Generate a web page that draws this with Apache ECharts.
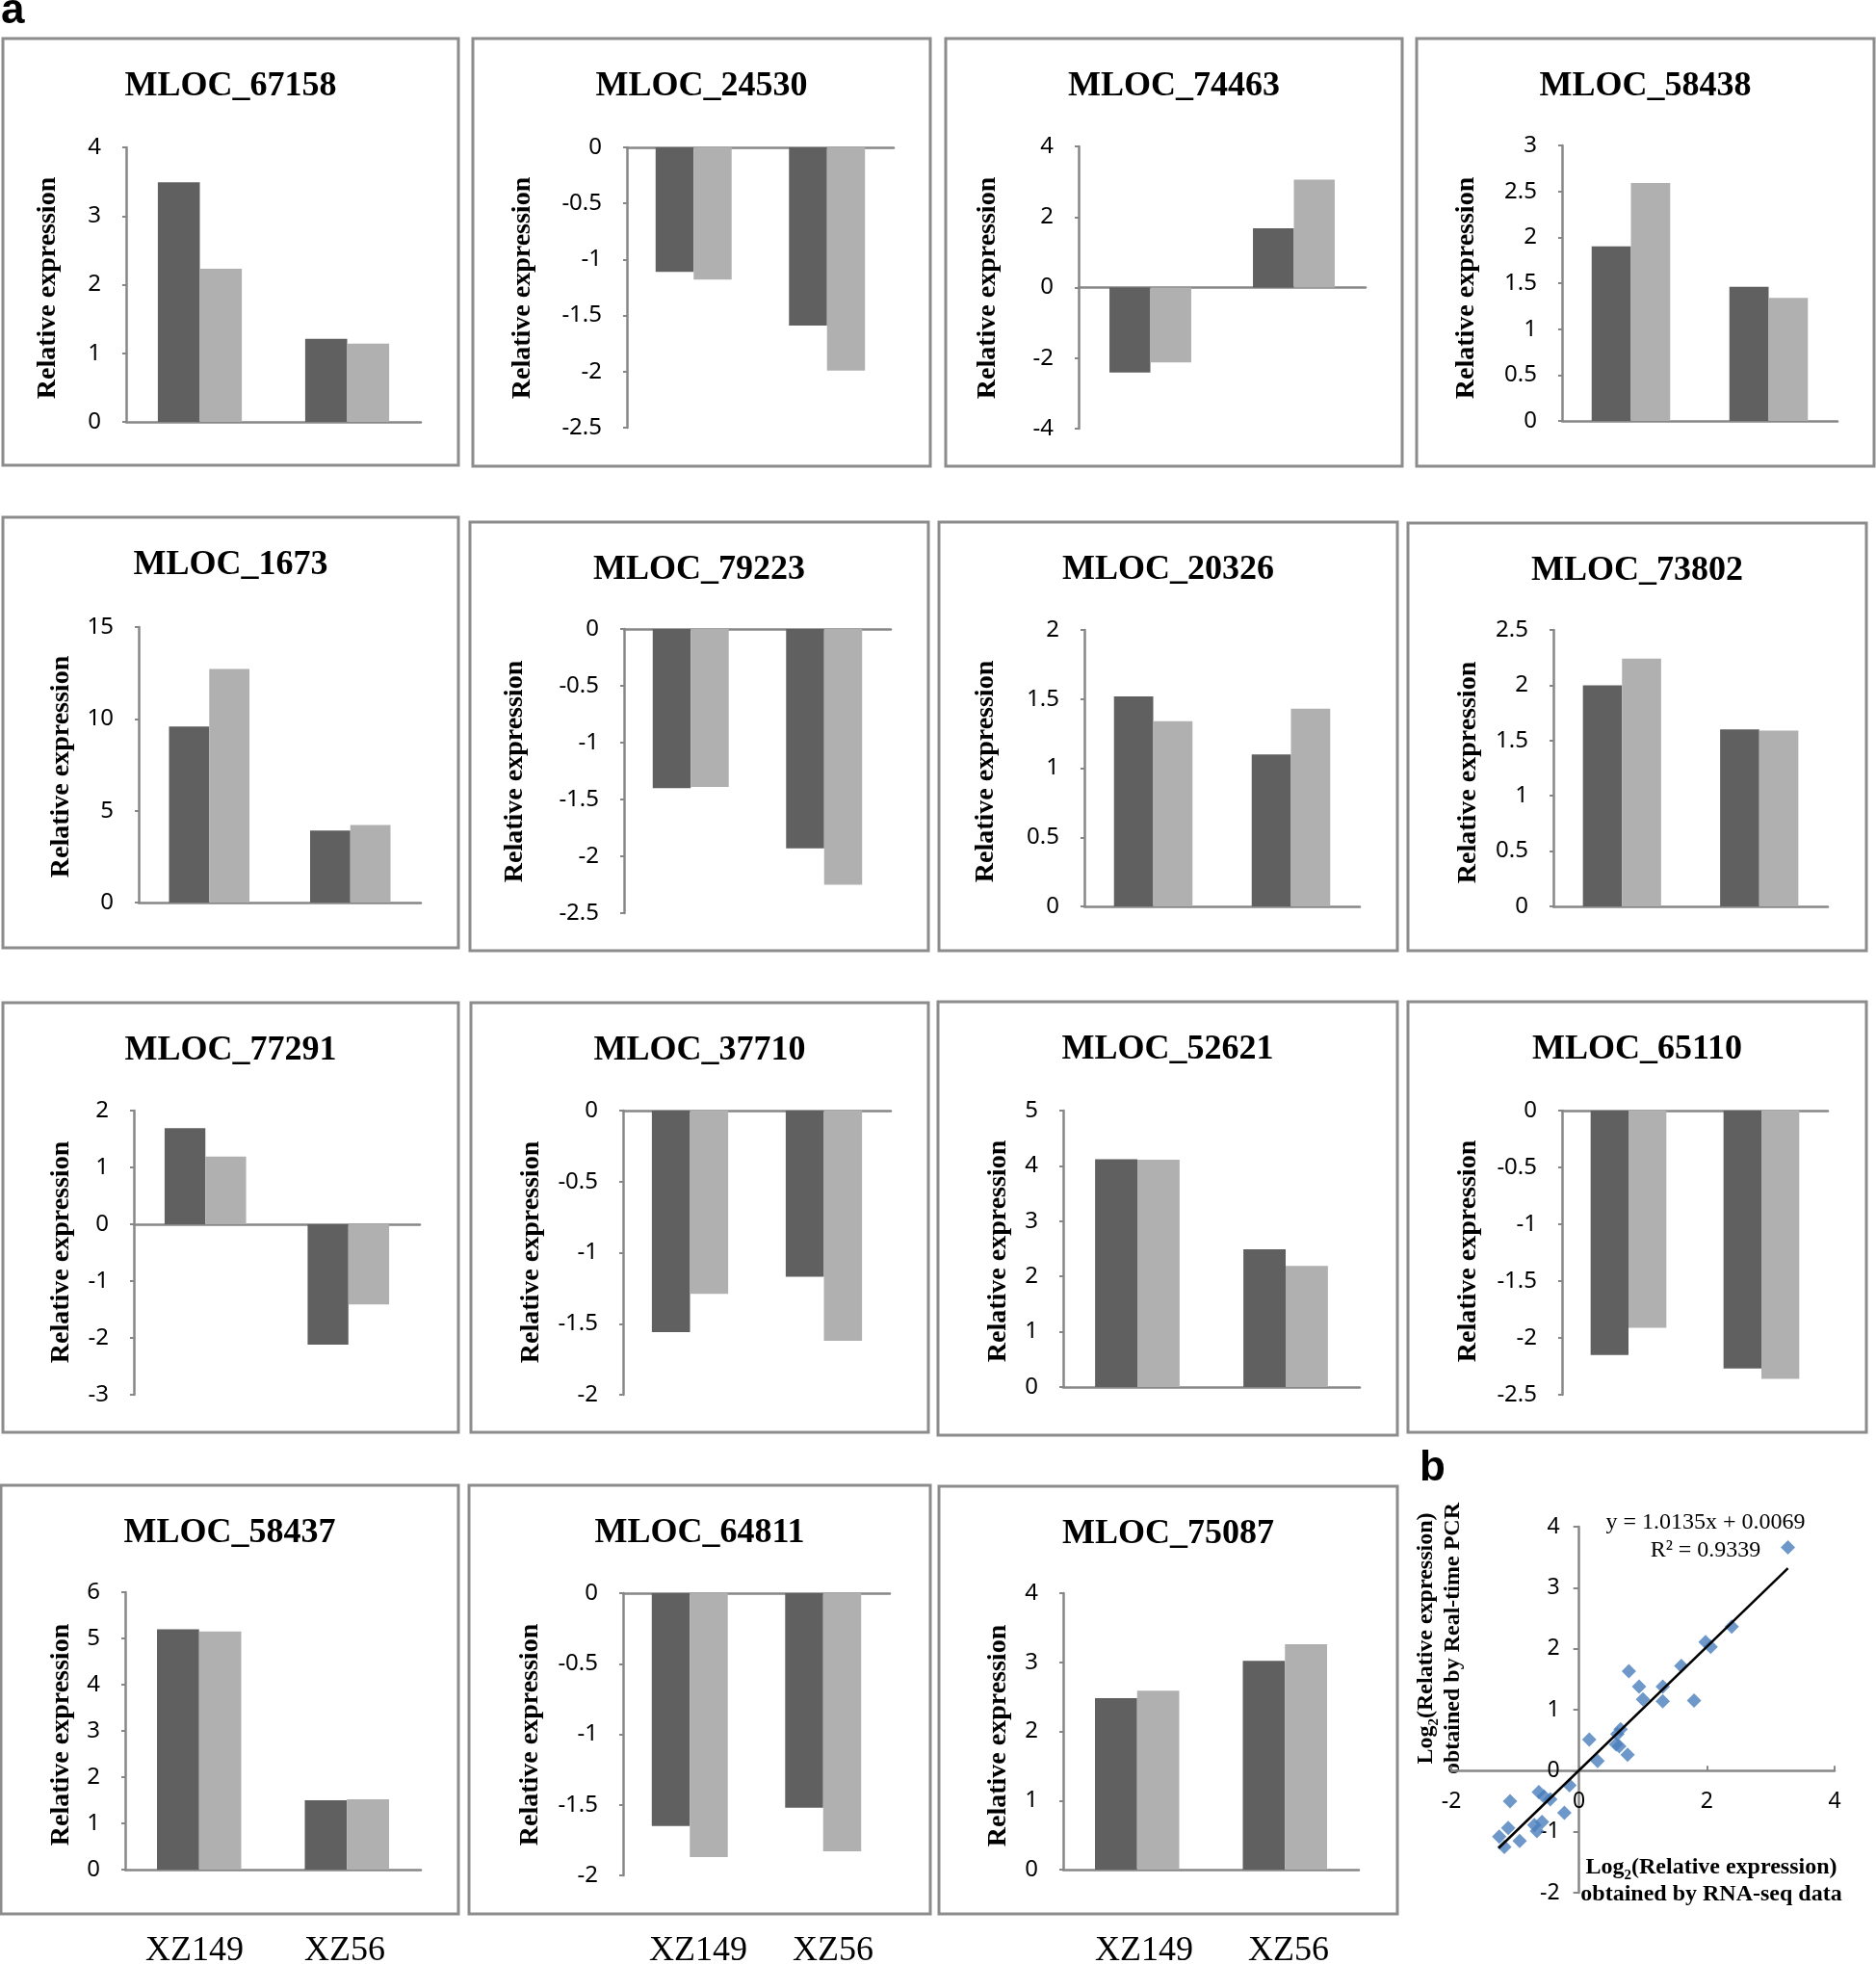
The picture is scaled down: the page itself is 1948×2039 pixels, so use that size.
<!DOCTYPE html>
<html>
<head>
<meta charset="utf-8">
<title>Relative expression, RNA-seq vs real-time PCR</title>
<script src="https://cdn.jsdelivr.net/npm/echarts@6/dist/echarts.min.js"></script>
<style>
  html, body { margin: 0; padding: 0; background: #fff; }
  #main { width: 1948px; height: 2039px; }
</style>
</head>
<body>
<div id="main"></div>
<script>
// ---- data ----
const genes = [
  'MLOC_67158', 'MLOC_24530', 'MLOC_74463', 'MLOC_58438',
  'MLOC_1673', 'MLOC_79223', 'MLOC_20326', 'MLOC_73802',
  'MLOC_77291', 'MLOC_37710', 'MLOC_52621', 'MLOC_65110',
  'MLOC_58437', 'MLOC_64811', 'MLOC_75087'
];
const samples = ['XZ149', 'XZ56'];
// dark bar / light bar for [XZ149, XZ56]
const darkBars = [
  [3.49, 1.21], [-1.11, -1.59], [-2.41, 1.68], [1.90, 1.46],
  [9.59, 3.92], [-1.40, -1.93], [1.52, 1.10], [2.00, 1.60],
  [1.69, -2.12], [-1.56, -1.17], [4.12, 2.49], [-2.15, -2.27],
  [5.20, 1.50], [-1.65, -1.52], [2.48, 3.02]
];
const lightBars = [
  [2.23, 1.14], [-1.18, -1.99], [-2.12, 3.06], [2.59, 1.34],
  [12.72, 4.22], [-1.39, -2.25], [1.34, 1.43], [2.24, 1.59],
  [1.19, -1.41], [-1.29, -1.62], [4.11, 2.19], [-1.91, -2.36],
  [5.15, 1.52], [-1.87, -1.83], [2.59, 3.26]
];
// y axis ticks of each panel
const yMin = [0, -2.5, -4, 0, 0, -2.5, 0, 0, -3, -2, 0, -2.5, 0, -2, 0];
const yMax = [4, 0, 4, 3, 15, 0, 2, 2.5, 2, 0, 5, 0, 6, 0, 4];
const yStep = [1, 0.5, 2, 0.5, 5, 0.5, 0.5, 0.5, 1, 0.5, 1, 0.5, 1, 0.5, 1];

// panel b: log2 relative expression
const rnaSeqLog2 = [3.27, 2.39, 1.98, 2.06, 1.60, 1.80, 1.31, 1.31, 0.94, 1.00, 0.78,
  0.65, 0.60, 0.58, 0.63, 0.76, 0.16, 0.29, -0.15, -0.23, -0.45, -0.63, -0.55,
  -1.08, -0.58, -0.70, -0.66, -1.11, -1.25, -1.17, -0.93];
const qpcrLog2 = [3.66, 2.36, 2.11, 2.03, 1.72, 1.15, 1.38, 1.14, 1.38, 1.17, 1.63,
  0.68, 0.60, 0.43, 0.40, 0.26, 0.51, 0.16, -0.24, -0.69, -0.47, -0.35, -0.42,
  -0.50, -0.84, -0.89, -0.99, -0.94, -1.08, -1.25, -1.15];
const trendLine = [[-1.26, -1.27], [3.27, 3.32]];
const trendEquation = 'y = 1.0135x + 0.0069';
const trendR2 = 'R² = 0.9339';
const bRange = [-2, 4];

// ---- layout, pixels in the 1948 x 2039 figure ----
// frame of each panel [x0, y0, x1, y1]
const boxes = [
  [3, 40, 476, 483], [491, 40, 966, 484], [982, 40, 1456, 484], [1471, 40, 1946, 484],
  [3, 537, 476, 984], [488, 542, 964, 987], [975, 542, 1451, 987], [1462, 543, 1938, 987],
  [3, 1041, 476, 1487], [489, 1041, 964, 1487], [974, 1040, 1451, 1490], [1462, 1040, 1938, 1487],
  [1, 1542, 476, 1987], [487, 1542, 966, 1987], [975, 1543, 1451, 1987]
];
// plot area [axisX, xEnd, top, bottom]
const plots = [
  [131, 437, 153, 438], [651, 928, 153, 444], [1120, 1418, 152, 445], [1622, 1908, 151, 437],
  [144, 437, 651, 937], [648, 925, 653, 948], [1126, 1412, 654, 941], [1613, 1898, 654, 941],
  [139, 436, 1153, 1448], [647, 925, 1153, 1448], [1104, 1412, 1153, 1440], [1622, 1898, 1153, 1448],
  [130, 437, 1653, 1941], [647, 924, 1654, 1947], [1104, 1411, 1654, 1941]
];
const nameX = [50, 543, 1026, 1523, 64, 535, 1024, 1525, 64, 552, 1037, 1525, 64, 551, 1037];
const sampleLabelX = [[202, 358], [725, 865], [1188, 1338]];
const bGrid = { left: 1507, top: 1585, width: 398, height: 380 };

const AXIS = '#878787';
const DARK = '#606060';
const LIGHT = '#b0b0b0';
const SERIF = '"Liberation Serif", "Times New Roman", serif';
const SANS = '"Noto Sans", "Open Sans", sans-serif';

const chart = echarts.init(document.getElementById('main'));

const grid = [];
const xAxis = [];
const yAxis = [];
const series = [];
const graphic = [];

genes.forEach((gene, i) => {
  const [ax, xe, top, bottom] = plots[i];
  const [bx0, by0, bx1, by1] = boxes[i];
  grid.push({ left: ax, top: top, width: xe - ax, height: bottom - top, outerBoundsMode: 'none' });
  xAxis.push({
    type: 'category',
    gridIndex: i,
    data: samples,
    axisLine: { onZero: true, lineStyle: { color: AXIS, width: 2.5 } },
    axisTick: { show: false },
    axisLabel: { show: false },
    splitLine: { show: false },
  });
  yAxis.push({
    type: 'value',
    gridIndex: i,
    min: yMin[i],
    max: yMax[i],
    interval: yStep[i],
    axisLine: { show: true, onZero: false, lineStyle: { color: AXIS, width: 2.5 } },
    axisTick: { show: true, length: 4, lineStyle: { color: AXIS, width: 2 } },
    axisLabel: { fontSize: 24, color: '#000', fontFamily: SANS, margin: 26 },
    splitLine: { show: false },
  });
  series.push({
    type: 'bar',
    xAxisIndex: i,
    yAxisIndex: i,
    data: darkBars[i],
    barGap: '0%',
    barCategoryGap: '43%',
    itemStyle: { color: DARK },
  });
  series.push({
    type: 'bar',
    xAxisIndex: i,
    yAxisIndex: i,
    data: lightBars[i],
    barGap: '0%',
    barCategoryGap: '43%',
    itemStyle: { color: LIGHT },
  });

  graphic.push({
    type: 'rect',
    silent: true,
    shape: { x: bx0, y: by0, width: bx1 - bx0, height: by1 - by0 },
    style: { fill: 'none', stroke: '#8c8c8c', lineWidth: 3 },
  });
  graphic.push({
    type: 'text',
    x: (bx0 + bx1) / 2,
    y: by0 + 50,
    style: { text: gene, font: 'bold 36px ' + SERIF, fill: '#000', textAlign: 'center', verticalAlign: 'middle' },
  });
  graphic.push({
    type: 'text',
    x: nameX[i],
    y: by0 + 259,
    rotation: Math.PI / 2,
    style: { text: 'Relative expression', font: 'bold 28px ' + SERIF, fill: '#000', textAlign: 'center', verticalAlign: 'middle' },
  });
});

// sample names under the last row
sampleLabelX.forEach(xs => {
  xs.forEach((x, k) => {
    graphic.push({
      type: 'text',
      x: x,
      y: 2026,
      style: { text: samples[k], font: '36px ' + SERIF, fill: '#000', textAlign: 'center', verticalAlign: 'middle' },
    });
  });
});

// ---- panel b ----
// both axes cross at zero: shift them in from the grid edges
const zeroFromBottom = bGrid.height * (0 - bRange[0]) / (bRange[1] - bRange[0]);
const zeroFromLeft = bGrid.width * (0 - bRange[0]) / (bRange[1] - bRange[0]);
const sIdx = genes.length;
grid.push(Object.assign({ outerBoundsMode: 'none' }, bGrid));
xAxis.push({
  type: 'value',
  gridIndex: sIdx,
  position: 'bottom',
  offset: -zeroFromBottom,
  min: bRange[0],
  max: bRange[1],
  interval: 2,
  axisLine: { onZero: false, lineStyle: { color: AXIS, width: 2.5 } },
  axisTick: { show: true, inside: true, length: 5, lineStyle: { color: AXIS, width: 2 } },
  axisLabel: { fontSize: 23, color: '#000', fontFamily: SANS, margin: 21 },
  splitLine: { show: false },
});
yAxis.push({
  type: 'value',
  gridIndex: sIdx,
  position: 'left',
  offset: -zeroFromLeft,
  min: bRange[0],
  max: bRange[1],
  interval: 1,
  axisLine: { show: true, onZero: false, lineStyle: { color: AXIS, width: 2.5 } },
  axisTick: { show: true, length: 6, lineStyle: { color: AXIS, width: 2 } },
  axisLabel: { fontSize: 23, color: '#000', fontFamily: SANS, margin: 20 },
  splitLine: { show: false },
});
series.push({
  type: 'scatter',
  xAxisIndex: sIdx,
  yAxisIndex: sIdx,
  symbol: 'diamond',
  symbolSize: 15,
  itemStyle: { color: '#4a7ebb' },
  data: rnaSeqLog2.map((x, k) => [x, qpcrLog2[k]]),
  z: 3,
});
series.push({
  type: 'line',
  xAxisIndex: sIdx,
  yAxisIndex: sIdx,
  data: trendLine,
  symbol: 'none',
  lineStyle: { color: '#000', width: 2.5 },
  z: 4,
});

const subRich = {
  m: { font: 'bold 24px ' + SERIF, fill: '#000', verticalAlign: 'top', lineHeight: 28 },
  s: { font: 'bold 15px ' + SERIF, fill: '#000', verticalAlign: 'bottom', lineHeight: 8 },
};
graphic.push({
  type: 'text',
  x: 1497,
  y: 1701,
  rotation: Math.PI / 2,
  style: {
    text: '{m|Log}{s|2}{m|(Relative expression)}\n{m|obtained by Real-time PCR}',
    rich: subRich,
    textAlign: 'center',
    verticalAlign: 'middle',
  },
});
graphic.push({
  type: 'text',
  x: 1777,
  y: 1955,
  style: {
    text: '{m|Log}{s|2}{m|(Relative expression)}\n{m|obtained by RNA-seq data}',
    rich: subRich,
    textAlign: 'center',
    verticalAlign: 'middle',
  },
});
graphic.push({
  type: 'text',
  x: 1771,
  y: 1581,
  style: { text: trendEquation, font: '24px ' + SERIF, fill: '#000', textAlign: 'center', verticalAlign: 'middle' },
});
graphic.push({
  type: 'text',
  x: 1771,
  y: 1610,
  style: { text: trendR2, font: '24px ' + SERIF, fill: '#000', textAlign: 'center', verticalAlign: 'middle' },
});

// panel letters
graphic.push({
  type: 'text',
  x: 1,
  y: 12,
  style: { text: 'a', font: 'bold 44px "Liberation Sans", Arial, sans-serif', fill: '#000', textAlign: 'left', verticalAlign: 'middle' },
});
graphic.push({
  type: 'text',
  x: 1474,
  y: 1525,
  style: { text: 'b', font: 'bold 44px "Liberation Sans", Arial, sans-serif', fill: '#000', textAlign: 'left', verticalAlign: 'middle' },
});

chart.setOption({
  animation: false,
  backgroundColor: '#fff',
  grid: grid,
  xAxis: xAxis,
  yAxis: yAxis,
  series: series,
  graphic: graphic,
});
</script>
</body>
</html>
